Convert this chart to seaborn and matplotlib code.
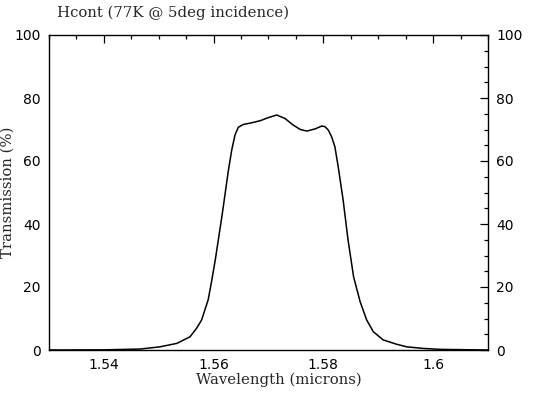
import pandas as pd
import matplotlib
matplotlib.use("Agg")
import matplotlib.pyplot as plt
import seaborn as sns
from matplotlib.ticker import MultipleLocator

# ======================================
# Data
# ======================================

wavelength = [1.530, 1.540, 1.5466, 1.5502, 1.5533, 1.5557, 1.5569, 1.5578,
              1.5590, 1.5596, 1.5603, 1.5615, 1.5627, 1.5633, 1.5639, 1.5645,
              1.5654, 1.5666, 1.5685, 1.5700, 1.5715, 1.5730, 1.5745, 1.5758,
              1.5770, 1.5785, 1.5797, 1.5803, 1.5809, 1.5815, 1.5821, 1.5827,
              1.5836, 1.5845, 1.5855, 1.5867, 1.5879, 1.5891, 1.5909, 1.5934,
              1.5952, 1.5982, 1.6013, 1.610]
transmission = [0.0, 0.05, 0.3, 1.0, 2.1, 4.2, 6.9, 9.5,
                15.9, 21.5, 28.6, 42.3, 57.1, 63.5, 68.3, 70.7,
                71.6, 72.0, 72.8, 73.8, 74.6, 73.5, 71.4, 70.0,
                69.5, 70.2, 71.1, 70.9, 69.8, 67.7, 64.5, 58.2,
                47.6, 34.9, 23.3, 15.3, 9.5, 5.8, 3.2, 1.8,
                1.0, 0.5, 0.2, 0.0]

df = pd.DataFrame({'Wavelength': wavelength, 'Transmission': transmission})

# ======================================
# Plot
# ======================================

sns.set_style('white')
plt.rcParams['font.family'] = ['DejaVu Sans']

fig = plt.figure(figsize=(5.37, 3.94), dpi=100)
ax = fig.add_axes([49 / 537, 1 - 350 / 394, 439 / 537, 315 / 394])

sns.lineplot(data=df, x='Wavelength', y='Transmission', ax=ax,
             color='black', linewidth=1.1, estimator=None, sort=False)

ax.set_xlim(1.53, 1.61)
ax.set_ylim(0, 100)
ax.xaxis.set_major_locator(MultipleLocator(0.02))
ax.xaxis.set_minor_locator(MultipleLocator(0.005))
ax.yaxis.set_major_locator(MultipleLocator(20))
ax.yaxis.set_minor_locator(MultipleLocator(5))
ax.set_xticks([1.54, 1.56, 1.58, 1.60])
ax.set_xticklabels(['1.54', '1.56', '1.58', '1.6'])

ax.tick_params(which='both', direction='in', top=True, right=True,
               labelright=True, labelsize=10, colors='black', pad=6)
ax.tick_params(which='major', length=6, width=0.9)
ax.tick_params(which='minor', length=3, width=0.9)
for s in ax.spines.values():
    s.set_color('black')
    s.set_linewidth(1.0)

ax.set_xlabel('')
ax.set_ylabel('')

fig.text(57 / 537, 1 - 13 / 394, 'Hcont (77K @ 5deg incidence)',
         family='DejaVu Serif', fontsize=10.7, ha='left', va='center')
fig.text(279 / 537, 1 - 380 / 394, 'Wavelength (microns)',
         family='DejaVu Serif', fontsize=10.7, ha='center', va='center')
fig.text(8 / 537, 1 - 192 / 394, 'Transmission (%)', rotation=90,
         family='DejaVu Serif', fontsize=10.7, ha='center', va='center')

fig.savefig('out.png', dpi=100)
